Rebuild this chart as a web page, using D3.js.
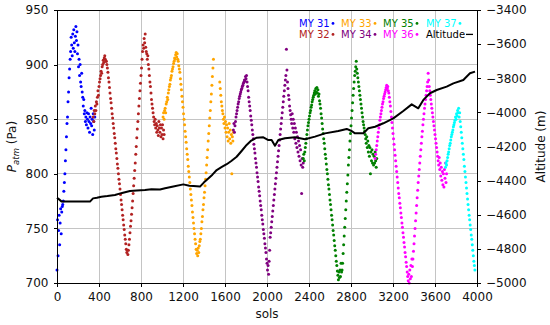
<html>
<head>
<meta charset="utf-8">
<title>pressure and altitude</title>
<script type="text/javascript" src="https://cdn.jsdelivr.net/npm/d3@7"></script>
<style>
	body {margin:0px; padding:0px; background-color:white;}
	text {font-family:"DejaVu Sans", sans-serif;}
</style>
</head>
<body>
<svg id="chart" width="550" height="325"></svg>
<script type="text/javascript">

// pressure samples, one value every 5 sols from each start sol (null = no data)
var step = 5;

var my31Start = 0;
var my31 = [712,758,725,748,762,735,755,768,745,765,
	770,772,775,784,792,800,812,822,834,846,
	852,866,875,888,896,905,912,925,918,908,
	928,915,932,920,912,926,935,922,930,910,
	918,898,905,890,900,884,880,892,875,870,
	862,868,855,858,848,852,845,856,850,842,
	855,848,838,852,846,860,844,850,836,855,
	848,840,852];

var my32Start = 345;
var my32 = [852,848,858,855,862,858,866,864,870,876,
	872,880,884,887,890,894,892,898,900,904,
	902,906,908,905,903,
	903,900,897,893,888,884,879,874,869,865,
	860,855,851,846,842,837,833,828,823,819,
	814,809,805,800,795,791,786,781,776,772,
	767,762,758,753,749,744,740,736,731,728,
	730,726,730,
	735,740,746,752,757,763,769,775,782,789,
	796,803,810,818,825,833,841,848,855,862,
	869,876,883,890,897,905,912,918,915,924,
	920,928,916,912,
	910,905,908,900,896,890,884,880,874,868,
	864,860,856,852,848,845,850,842,846,838,
	844,840,835,848,842,838,845,834,842,836,
	845,832,840,836];

var my33Start = 1010;
var my33 = [852,856,850,858,860,856,864,866,870,868,
	874,877,880,882,886,888,890,894,896,898,
	901,903,906,905,909,911,907,910,905,903,
	899,896,893,
	887,882,877,871,866,861,855,850,845,839,
	834,829,823,818,813,807,802,797,792,786,
	781,776,771,765,760,755,750,745,740,736,
	731,727,730,725,732,728,734,738,
	740,745,750,756,761,767,772,778,783,789,
	795,801,808,815,822,830,837,844,851,858,
	866,873,881,889,897,905,
	null,null,null,null,null,null,null,null,null,null,null,
	884,878,872,866,862,858,855,850,846,852,
	842,848,838,845,834,842,830,838,846,832,
	840,828,836,800,834,830,838];

var my34Start = 1680;
var my34 = [840,846,838,844,848,852,855,858,861,864,
	866,869,871,873,875,877,878,880,881,883,
	884,886,885,889,887,890,884,880,876,
	870,866,862,858,853,849,845,840,836,832,
	827,823,819,814,810,806,801,797,793,788,
	784,780,775,771,767,762,758,754,749,745,
	741,736,732,728,722,718,712,716,708,720,
	730,
	742,746,751,756,761,766,771,776,781,786,
	791,796,801,806,811,816,821,826,831,836,
	841,846,851,856,861,866,871,876,881,886,
	890,914,895,
	884,878,872,868,862,858,854,850,846,855,
	842,850,838,846,832,842,828,838,824,834,
	820,830,816,826,812,822,808,782,814,806,
	810];

var my35Start = 2345;
var my35 = [814,818,812,820,824,828,832,836,840,844,
	847,850,853,856,858,861,863,866,868,870,
	872,874,876,873,878,875,879,874,877,871,
	873,867,864,
	860,855,851,846,841,837,832,828,823,818,
	814,809,804,800,795,790,786,781,776,772,
	767,762,758,753,748,744,739,734,730,725,
	720,716,711,707,703,710,705,712,706,718,
	710,
	712,718,727,735,743,751,759,767,775,783,
	791,799,808,815,822,830,837,844,851,858,
	865,872,878,884,890,894,898,903,896,892,
	888,884,880,
	876,872,868,864,860,856,852,848,845,842,
	839,836,832,828,834,824,830,820,826,816,
	824,800,820,812,822,810,818,808,816,810,
	820,812,806,814];

var my36Start = 3030;
var my36 = [814,818,822,826,830,834,838,842,845,849,
	852,855,858,861,864,866,869,871,873,875,
	877,879,881,878,880,876,874,870,866,
	862,857,852,847,842,837,832,827,822,817,
	812,807,802,797,792,787,782,778,773,769,
	764,760,755,751,746,742,737,733,728,724,
	719,715,710,706,702,708,700,712,704,716,
	706,722,
	715,722,729,736,743,750,757,764,771,778,
	785,792,798,804,810,816,822,828,834,839,
	845,850,855,860,864,868,872,876,880,884,
	892,886,880,876,872,
	868,864,860,856,852,848,844,840,836,832,
	828,824,820,816,812,808,815,804,810,798,
	806,794,802,790,800,788,804,796,810,792,
	800];

var my37Start = 3700;
var my37 = [806,810,808,812,815,818,820,823,826,828,
	831,834,836,838,840,843,845,847,849,852,
	850,855,853,858,856,860,852,856,848,
	843,838,833,828,823,818,813,807,802,797,
	792,787,782,777,772,767,762,758,753,749,
	744,740,735,730,725,720,716,712];

var altSols = [0,20,45,100,200,314,343,380,422,480,
	552,620,695,760,838,900,981,1029,1108,1203,
	1260,1300,1362,1400,1425,1480,1521,1570,1616,1660,
	1711,1760,1806,1850,1902,1965,2013,2044,2076,2108,
	2171,2267,2362,2457,2552,2679,2759,2806,2838,2917,
	2965,3029,3108,3203,3298,3378,3441,3489,3552,3616,
	3711,3775,3870,3933,3981];
var altValues = [-4500,-4510,-4523,-4523,-4523,-4523,-4504,-4500,-4494,-4490,
	-4484,-4472,-4461,-4458,-4455,-4450,-4452,-4445,-4435,-4422,
	-4430,-4432,-4435,-4410,-4396,-4365,-4338,-4320,-4304,-4285,
	-4260,-4225,-4191,-4165,-4148,-4146,-4162,-4162,-4195,-4162,
	-4152,-4146,-4158,-4142,-4123,-4109,-4097,-4109,-4123,-4123,
	-4093,-4084,-4064,-4035,-3992,-3953,-3976,-3927,-3888,-3869,
	-3849,-3830,-3810,-3771,-3761];

var xTicks = [0,400,800,1200,1600,2000,2400,2800,3200,3600,4000];
var paTicks = [700,750,800,850,900,950];
var altTicks = [-5000,-4800,-4600,-4400,-4200,-4000,-3800,-3600,-3400];

var seriesLabels = ['MY 31','MY 32','MY 33','MY 34','MY 35','MY 36','MY 37'];
var seriesColors = ['#0000ff','#b22222','#ffa500','#800080','#008000','#ff00ff','#00ffff'];
var seriesStarts = [my31Start,my32Start,my33Start,my34Start,my35Start,my36Start,my37Start];
var seriesValues = [my31,my32,my33,my34,my35,my36,my37];


var margin = {top:10, right:73, bottom:42, left:57};
var width = 550 - margin.left - margin.right;
var height = 325 - margin.top - margin.bottom;

var x = d3.scaleLinear().domain([0,4000]).range([0,width]);
var yP = d3.scaleLinear().domain([700,950]).range([height,0]);
var yA = d3.scaleLinear().domain([-5000,-3400]).range([height,0]);

var svg = d3.select('#chart');
var g = svg.append('g').attr('transform','translate('+margin.left+','+margin.top+')');

// grid
g.append('g').selectAll('line')
	.data(xTicks)
	.enter()
	.append('line')
	.attr('x1', function(d) {return x(d)})
	.attr('x2', function(d) {return x(d)})
	.attr('y1', 0)
	.attr('y2', height)
	.attr('stroke', '#c4c4c4')
	.attr('shape-rendering', 'crispEdges')
g.append('g').selectAll('line')
	.data(paTicks)
	.enter()
	.append('line')
	.attr('x1', 0)
	.attr('x2', width)
	.attr('y1', function(d) {return yP(d)})
	.attr('y2', function(d) {return yP(d)})
	.attr('stroke', '#c4c4c4')
	.attr('shape-rendering', 'crispEdges')

// pressure dots, one group per martian year
var series = seriesLabels.map(function(l, i) {
	var pts = [];
	seriesValues[i].forEach(function(v, j) {
		if (v !== null) pts.push({sol: seriesStarts[i] + j*step, pa: v});
	});
	return {label: l, color: seriesColors[i], points: pts};
});

g.selectAll('g.year')
	.data(series)
	.enter()
	.append('g')
	.attr('class', 'year')
	.attr('fill', function(d) {return d.color})
	.selectAll('circle')
	.data(function(d) {return d.points})
	.enter()
	.append('circle')
	.attr('cx', function(d) {return x(d.sol)})
	.attr('cy', function(d) {return yP(d.pa)})
	.attr('r', 1.5)

// altitude
var alt = altSols.map(function(s, i) {return {sol: s, alt: altValues[i]}});
var line = d3.line()
	.x(function(d) {return x(d.sol)})
	.y(function(d) {return yA(d.alt)});
g.append('path')
	.datum(alt)
	.attr('d', line)
	.attr('fill', 'none')
	.attr('stroke', 'black')
	.attr('stroke-width', 2)
	.attr('stroke-linejoin', 'round')

// frame and axes
g.append('rect')
	.attr('width', width)
	.attr('height', height)
	.attr('fill', 'none')
	.attr('stroke', 'black')
	.attr('shape-rendering', 'crispEdges')

var xAxis = g.append('g')
	.attr('transform', 'translate(0,'+height+')')
	.call(d3.axisBottom(x).tickValues(xTicks).tickSize(3.5).tickPadding(6).tickFormat(d3.format('d')));
var yAxisL = g.append('g')
	.call(d3.axisLeft(yP).tickValues(paTicks).tickSize(3.5).tickPadding(5).tickFormat(d3.format('d')));
var yAxisR = g.append('g')
	.attr('transform', 'translate('+width+',0)')
	.call(d3.axisRight(yA).tickValues(altTicks).tickSize(3.5).tickPadding(5.5).tickFormat(d3.format('d')));

[xAxis, yAxisL, yAxisR].forEach(function(a) {
	a.select('.domain').remove();
	a.selectAll('line').attr('stroke', 'black').attr('shape-rendering', 'crispEdges');
	a.selectAll('text').attr('font-size', '12px').attr('fill', '#111').attr('font-family', '"DejaVu Sans", sans-serif');
});

// axis labels
g.append('text')
	.attr('x', width/2)
	.attr('y', 308)
	.attr('text-anchor', 'middle')
	.attr('font-size', '12px')
	.attr('fill', '#111')
	.text('sols')

var pl = g.append('text')
	.attr('transform', 'translate(-41,'+(height/2)+') rotate(-90)')
	.attr('text-anchor', 'middle')
	.attr('font-size', '12px')
	.attr('fill', '#111')
pl.append('tspan').attr('font-style', 'italic').text('P')
pl.append('tspan').attr('font-style', 'italic').attr('font-size', '8.5px').attr('dy', 3).text('atm')
pl.append('tspan').attr('dy', -3).text(' (Pa)')

g.append('text')
	.attr('transform', 'translate('+(width+67.5)+','+(height/2)+') rotate(-90)')
	.attr('text-anchor', 'middle')
	.attr('font-size', '12px')
	.attr('fill', '#111')
	.text('Altitude (m)')

// legend: two rows, text then marker
var legCols = [299-margin.left, 341-margin.left, 383-margin.left, 426-margin.left];
var legRows = [27-margin.top, 38-margin.top];
var legItems = series.map(function(s, i) {return {label: s.label, color: s.color, col: Math.floor(i/2), row: i%2}});

var leg = g.append('g').attr('font-size', '10px');
leg.selectAll('text')
	.data(legItems)
	.enter()
	.append('text')
	.attr('x', function(d) {return legCols[d.col]})
	.attr('y', function(d) {return legRows[d.row]})
	.attr('fill', function(d) {return d.color})
	.text(function(d) {return d.label})
leg.selectAll('circle')
	.data(legItems)
	.enter()
	.append('circle')
	.attr('cx', function(d) {return legCols[d.col]+34})
	.attr('cy', function(d) {return legRows[d.row]-3.6})
	.attr('r', 1.4)
	.attr('fill', function(d) {return d.color})
leg.append('text')
	.attr('x', legCols[3])
	.attr('y', legRows[1])
	.attr('fill', 'black')
	.text('Altitude')
leg.append('line')
	.attr('x1', legCols[3]+40)
	.attr('x2', legCols[3]+47)
	.attr('y1', legRows[1]-3.6)
	.attr('y2', legRows[1]-3.6)
	.attr('stroke', 'black')
	.attr('stroke-width', 1.3)

</script>
</body>
</html>
